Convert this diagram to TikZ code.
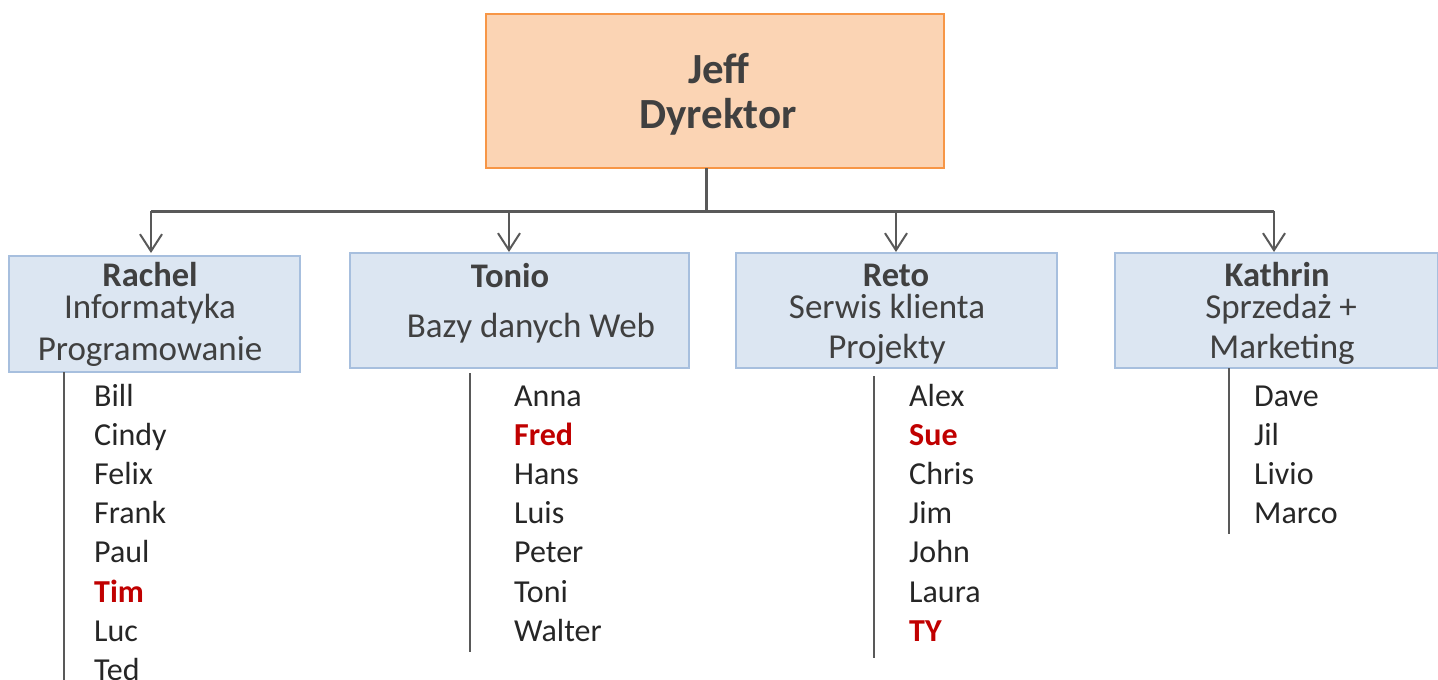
\documentclass[tikz,border=0pt]{standalone}
\usepackage{fontspec}
\setmainfont{Carlito}
\usetikzlibrary{arrows.meta}
\definecolor{txtgray}{HTML}{404040}
\definecolor{listtxt}{HTML}{262626}
\definecolor{redname}{HTML}{C00000}
\definecolor{peach}{HTML}{FBD4B4}
\definecolor{peachline}{HTML}{F79646}
\definecolor{bluefill}{HTML}{DCE6F2}
\definecolor{blueline}{HTML}{A7BFDE}
\definecolor{conn}{HTML}{595959}
\begin{document}
\begin{tikzpicture}[x=1pt,y=-1pt,
  topbox/.style={draw=peachline, fill=peach, line width=1.3pt, inner sep=0pt, outer sep=0pt},
  deptbox/.style={draw=blueline, fill=bluefill, line width=1.3pt, inner sep=0pt, outer sep=0pt},
  bosstxt/.style={anchor=base, inner sep=0pt, text=txtgray, font=\fontsize{43}{51}\selectfont\bfseries},
  headtxt/.style={anchor=base, inner sep=0pt, text depth=0pt, text=txtgray, font=\fontsize{34.5}{41}\selectfont\bfseries},
  roletxt/.style={anchor=base, inner sep=0pt, text=txtgray, font=\fontsize{35}{42}\selectfont},
  member/.style={anchor=base west, inner sep=0pt, text=listtxt, font=\fontsize{32}{38}\selectfont},
  keymember/.style={member, text=redname, font=\fontsize{32}{38}\selectfont\bfseries},
  link/.style={draw=conn, line width=2pt, -{Straight Barb[length=17pt,width=22pt,line width=2pt]}},
  stem/.style={draw=conn, line width=3pt},
  listline/.style={draw=conn, line width=2.5pt}
]
\useasboundingbox (0,0) rectangle (1438,680);

% boxes
\node[topbox, minimum width=458pt, minimum height=154pt] (jeff) at (715,91) {};
\node[deptbox, minimum width=291pt, minimum height=116pt] (rachel) at (154.5,314) {};
\node[deptbox, minimum width=339pt, minimum height=115pt] (tonio) at (519.5,310.5) {};
\node[deptbox, minimum width=321pt, minimum height=115pt] (reto) at (896.5,310.5) {};
\node[deptbox, minimum width=323pt, minimum height=115pt] (kathrin) at (1276.5,310.5) {};

% box texts
\node[bosstxt] (t-jeff) at (719,83) {Jeff};
\node[bosstxt] (t-dyr) at (718,128) {Dyrektor};

\node[headtxt] (t-rachel) at (150,286) {Rachel};
\node[roletxt] (t-rachel1) at (150,318) {Informatyka};
\node[roletxt] (t-rachel2) at (150,360) {Programowanie};

\node[headtxt] (t-tonio) at (510,287) {Tonio};
\node[roletxt] (t-tonio1) at (531,337) {Bazy danych Web};

\node[headtxt] (t-reto) at (896,286) {Reto};
\node[roletxt] (t-reto1) at (887,318) {Serwis klienta};
\node[roletxt] (t-reto2) at (887,358) {Projekty};

\node[headtxt] (t-kathrin) at (1277,286) {Kathrin};
\node[roletxt] (t-kathrin1) at (1281,318) {Sprzedaż +};
\node[roletxt] (t-kathrin2) at (1282,358) {Marketing};

% connectors
\coordinate (hub) at (706,211);
\draw[stem] (jeff.south -| hub) -- (hub);
\draw[stem] (151,211) -- (1274,211);
\draw[link] (151,211) -- (151,253);
\draw[link] (509,211) -- (509,252);
\draw[link] (896,211) -- (896,252);
\draw[link] (1274,211) -- (1274,252);

% list lines
\coordinate (la) at (64,372);
\coordinate (lb) at (470,373);
\coordinate (lc) at (874,376);
\coordinate (ld) at (1229,368);
\draw[listline] (la) -- (64,682);
\draw[listline] (lb) -- (470,652);
\draw[listline] (lc) -- (874,658);
\draw[listline] (ld) -- (1229,534);

% members Rachel
\node[member] (m11) at (94,406) {Bill};
\node[member] (m12) at (94,445.2) {Cindy};
\node[member] (m13) at (94,484.4) {Felix};
\node[member] (m14) at (94,523.6) {Frank};
\node[member] (m15) at (94,562.8) {Paul};
\node[keymember] (m16) at (94,602) {Tim};
\node[member] (m17) at (94,641.2) {Luc};
\node[member] (m18) at (94,680.4) {Ted};

% members Tonio
\node[member] (m21) at (514,406) {Anna};
\node[keymember] (m22) at (514,445.2) {Fred};
\node[member] (m23) at (514,484.4) {Hans};
\node[member] (m24) at (514,523.6) {Luis};
\node[member] (m25) at (514,562.8) {Peter};
\node[member] (m26) at (514,602) {Toni};
\node[member] (m27) at (514,641.2) {Walter};

% members Reto
\node[member] (m31) at (909,406) {Alex};
\node[keymember] (m32) at (909,445.2) {Sue};
\node[member] (m33) at (909,484.4) {Chris};
\node[member] (m34) at (909,523.6) {Jim};
\node[member] (m35) at (909,562.8) {John};
\node[member] (m36) at (909,602) {Laura};
\node[keymember] (m37) at (909,641.2) {TY};

% members Kathrin
\node[member] (m41) at (1254,406) {Dave};
\node[member] (m42) at (1254,445.2) {Jil};
\node[member] (m43) at (1254,484.4) {Livio};
\node[member] (m44) at (1254,523.6) {Marco};
\end{tikzpicture}
\end{document}
